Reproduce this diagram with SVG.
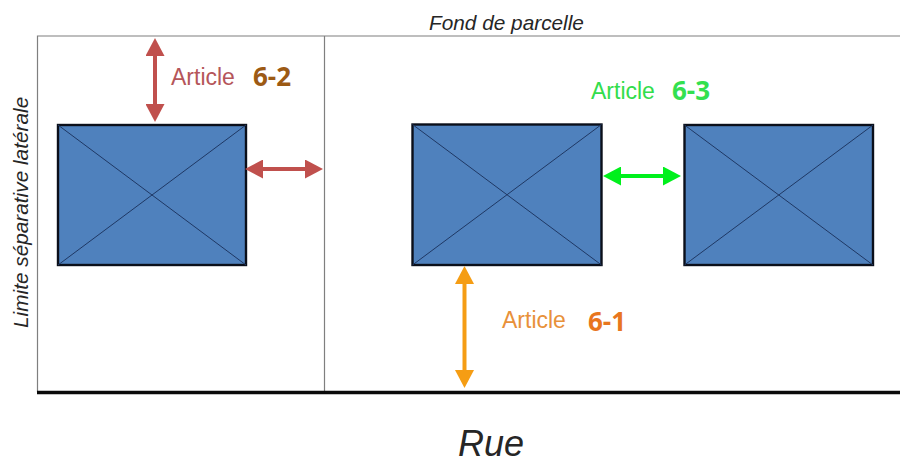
<svg xmlns="http://www.w3.org/2000/svg" width="900" height="457" viewBox="0 0 900 457">
<style>
.b{fill:#4f81bd;stroke:#0b0f1a;stroke-width:2.4}
.x{stroke:#1f3864;stroke-width:1;fill:none}
.l{font-family:"Liberation Sans",Arial,sans-serif;font-size:23px}
.n{font-family:"Open Sans","Liberation Sans",sans-serif;font-size:26px;font-weight:700}
.i{font-family:"Liberation Sans",Arial,sans-serif;font-style:italic;fill:#262626}
</style>
<defs>
<marker id="mr" markerUnits="userSpaceOnUse" markerWidth="19" markerHeight="19" refX="4" refY="9.500" orient="auto-start-reverse"><path d="M0 0L18 9.500L0 19Z" fill="#c0504d"/></marker>
<marker id="mg" markerUnits="userSpaceOnUse" markerWidth="19" markerHeight="19" refX="4" refY="9.500" orient="auto-start-reverse"><path d="M0 0L18 9.500L0 19Z" fill="#00f01c"/></marker>
<marker id="mo" markerUnits="userSpaceOnUse" markerWidth="19" markerHeight="19" refX="4" refY="9.500" orient="auto-start-reverse"><path d="M0 0L18 9.500L0 19Z" fill="#f59d14"/></marker>
</defs>
<rect width="900" height="457" fill="#fff"/>
<g id="parcelle">
<path d="M900 36H37.500V392M324.500 36V392" fill="none" stroke="#7f7f7f" stroke-width="1.200"/>
<path d="M37 392.500H900" fill="none" stroke="#0a0a0a" stroke-width="3.400"/>
</g>
<g id="bati-1"><rect class="b" x="58" y="125" width="188" height="140"/><path class="x" d="M58 125L246 265M246 125L58 265"/></g>
<g id="bati-2"><rect class="b" x="412.500" y="124.500" width="189" height="140.500"/><path class="x" d="M412.500 124.500L601.500 265M601.500 124.500L412.500 265"/></g>
<g id="bati-3"><rect class="b" x="684.500" y="125" width="188.500" height="140"/><path class="x" d="M684.500 125L873 265M873 125L684.500 265"/></g>
<g id="connectors" fill="none" stroke-width="4">
<path d="M155 52V108" stroke="#c0504d" marker-start="url(#mr)" marker-end="url(#mr)"/>
<path d="M259 169H309" stroke="#c0504d" marker-start="url(#mr)" marker-end="url(#mr)"/>
<path d="M617 176H667" stroke="#00f01c" marker-start="url(#mg)" marker-end="url(#mg)"/>
<path d="M464.500 280V374" stroke="#f59d14" marker-start="url(#mo)" marker-end="url(#mo)"/>
</g>
<g id="labels">
<text class="i" x="429" y="30" font-size="20.800">Fond de parcelle</text>
<text class="i" transform="translate(28 328) rotate(-90)" font-size="20.800">Limite séparative latérale</text>
<text class="i" x="458" y="456" font-size="36">Rue</text>
<text class="l" x="171" y="85" fill="#b5565a">Article</text>
<text class="n" x="253" y="86" fill="#9c5a14">6-2</text>
<text class="l" x="591" y="99" fill="#33dd4c">Article</text>
<text class="n" x="672" y="100" fill="#33e04f">6-3</text>
<text class="l" x="502" y="328" fill="#e8913a">Article</text>
<text class="n" x="588" y="331" fill="#e8761e">6-1</text>
</g>
</svg>
